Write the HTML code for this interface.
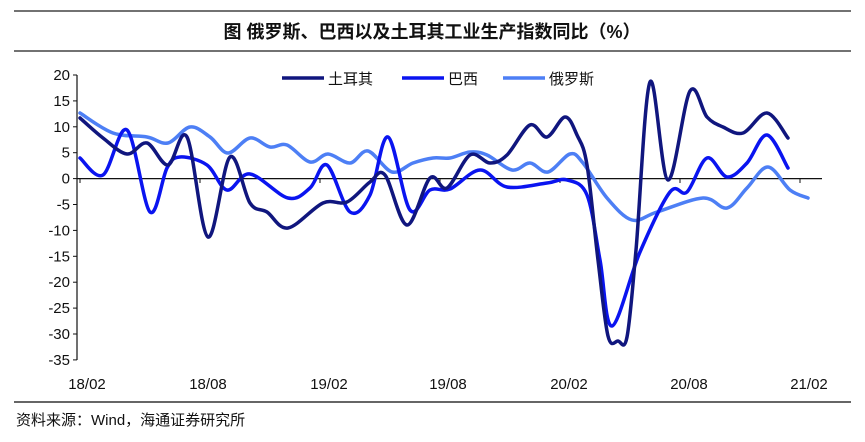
<!DOCTYPE html>
<html><head><meta charset="utf-8"><style>
body{margin:0;background:#fff;width:865px;height:442px;overflow:hidden}
svg{display:block}
text{font-family:"Liberation Sans","Noto Sans CJK SC",sans-serif}
</style></head><body>
<svg id="s" width="865" height="442" viewBox="0 0 865 442">
<line x1="14" y1="11" x2="851" y2="11" stroke="#444" stroke-width="1.5"/>
<text x="432" y="38" text-anchor="middle" font-size="18" font-weight="bold" fill="#111">图  俄罗斯、巴西以及土耳其工业生产指数同比（%）</text>
<line x1="14" y1="51" x2="851" y2="51" stroke="#444" stroke-width="1.5"/>
<g font-size="15" fill="#111" text-anchor="end" id="yl"></g>
<line x1="77" y1="75" x2="77" y2="360" stroke="#111" stroke-width="1.2"/>
<line x1="77" y1="178.6" x2="822" y2="178.6" stroke="#111" stroke-width="1.2"/>
<g font-size="15" fill="#111" text-anchor="middle">
<text x="87" y="389">18/02</text><text x="208" y="389">18/08</text><text x="329" y="389">19/02</text><text x="448" y="389">19/08</text><text x="569" y="389">20/02</text><text x="689" y="389">20/08</text><text x="809" y="389">21/02</text>
</g>
<g stroke-width="3.5" fill="none">
<line x1="282" y1="78" x2="324" y2="78" stroke="#10167e"/>
<line x1="402" y1="78" x2="444" y2="78" stroke="#0a14f0"/>
<line x1="503" y1="78" x2="545" y2="78" stroke="#4d7ff5"/>
</g>
<g font-size="15" fill="#111">
<text x="328" y="84">土耳其</text><text x="448" y="84">巴西</text><text x="549" y="84">俄罗斯</text>
</g>
<g id="lines" fill="none" stroke-width="3.5" stroke-linejoin="round" stroke-linecap="round"></g>
<line x1="14" y1="402" x2="851" y2="402" stroke="#666" stroke-width="2"/>
<text x="16" y="425" font-size="15" fill="#111">资料来源：Wind，海通证券研究所</text>
</svg>
<script>
var ns="http://www.w3.org/2000/svg";
var yl=document.getElementById('yl');
for(var i=0;i<12;i++){var v=20-5*i,y=75+i*25.9;
var t=document.createElementNS(ns,'text');t.setAttribute('x',70);t.setAttribute('y',y+5);t.textContent=v;yl.appendChild(t);
var l=document.createElementNS(ns,'line');l.setAttribute('x1',73);l.setAttribute('x2',77);l.setAttribute('y1',y);l.setAttribute('y2',y);l.setAttribute('stroke','#111');yl.appendChild(l);}
[80,200,320,440,560,680,800].forEach(function(x){var l=document.createElementNS(ns,'line');l.setAttribute('x1',x);l.setAttribute('x2',x);l.setAttribute('y1',178);l.setAttribute('y2',183);l.setAttribute('stroke','#111');yl.appendChild(l);});
function path(p){var d="M"+p[0][0]+","+p[0][1];for(var i=0;i<p.length-1;i++){var p0=p[i-1]||p[i],p1=p[i],p2=p[i+1],p3=p[i+2]||p2;
d+=" C"+(p1[0]+(p2[0]-p0[0])/6)+","+(p1[1]+(p2[1]-p0[1])/6)+" "+(p2[0]-(p3[0]-p1[0])/6)+","+(p2[1]-(p3[1]-p1[1])/6)+" "+p2[0]+","+p2[1];}return d;}
var S=[
["#4d7ff5",[[80,113],[113,133],[147,137],[168,143],[190,127],[210,137],[228,153],[250,138],[270,147],[287,145],[310,162],[328,154],[350,163],[368,151],[392,172],[413,163],[433,158],[450,158],[470,152],[487,155],[512,170],[530,163],[548,172],[570,154],[583,163],[607,198],[632,220],[657,212],[703,198],[727,208],[747,188],[768,167],[790,190],[808,198]]],
["#0a14f0",[[80,158],[103,175],[127,130],[150,212],[167,168],[180,157],[207,165],[227,190],[250,174],[288,198],[310,188],[327,165],[350,212],[370,195],[388,137],[410,210],[430,190],[450,189],[480,170],[507,187],[547,183],[567,180],[587,195],[600,260],[612,326],[640,252],[670,192],[687,192],[707,158],[727,177],[747,163],[767,135],[788,168]]],
["#10167e",[[80,118],[103,138],[127,154],[147,143],[168,165],[187,137],[208,237],[230,157],[250,203],[267,212],[288,228],[323,203],[347,202],[370,182],[385,175],[407,225],[430,178],[447,188],[470,155],[490,163],[507,155],[530,125],[547,137],[565,117],[577,135],[587,165],[598,260],[608,336],[618,341],[627,337],[636,250],[650,82],[668,180],[690,91],[707,117],[723,127],[743,133],[767,113],[788,138]]]
];
var g=document.getElementById('lines');
S.forEach(function(s){var e=document.createElementNS(ns,'path');e.setAttribute('d',path(s[1]));e.setAttribute('stroke',s[0]);g.appendChild(e);});
</script>
</body></html>
